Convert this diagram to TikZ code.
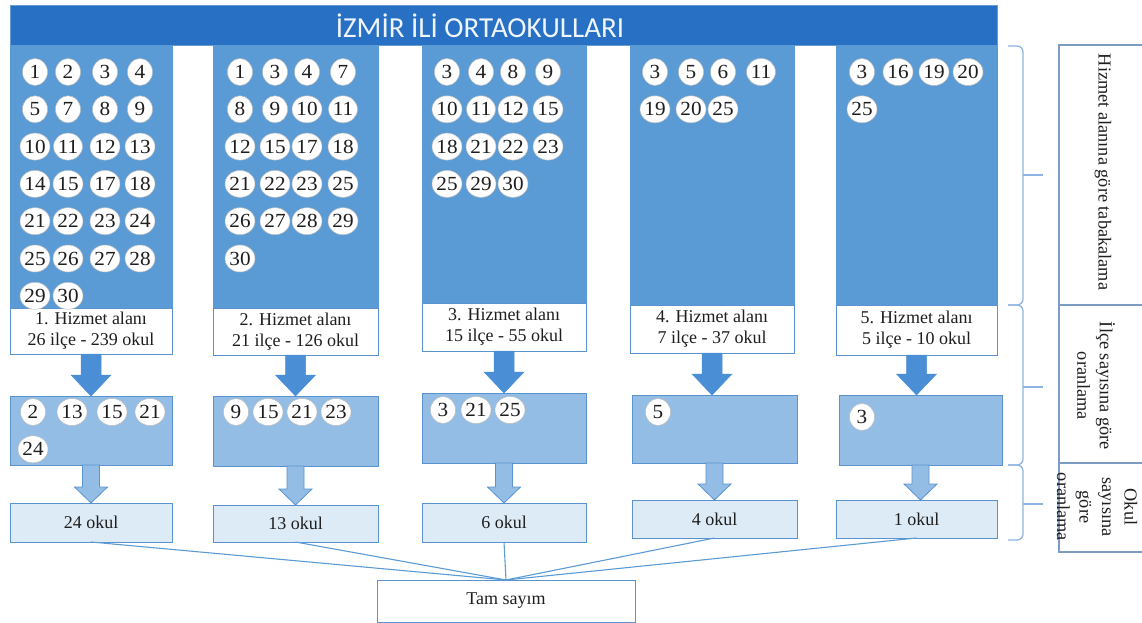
\documentclass[tikz,border=0pt]{standalone}
\usepackage{fontspec}
\setmainfont{Liberation Serif}
\newfontfamily\wideserif[FakeStretch=1.06]{Liberation Serif}
\newfontfamily\titlefont{Carlito}
\usetikzlibrary{shapes.geometric,calc}
\definecolor{titleblue}{HTML}{2770C4}
\definecolor{colA}{HTML}{5B9BD5}
\definecolor{arrowA}{HTML}{4A8ED5}
\definecolor{midfill}{HTML}{93BDE4}
\definecolor{botfill}{HTML}{DDEBF7}
\definecolor{bordA}{HTML}{5B93CF}
\definecolor{braceC}{HTML}{8DB4E2}
\definecolor{tblC}{HTML}{7C9CC2}
\definecolor{txt}{HTML}{1E1E1E}
\tikzset{
  colbox/.style={fill=colA, draw=colA, inner sep=0pt, outer sep=0pt},
  lblbox/.style={fill=white, draw=bordA, line width=1pt, inner sep=0pt, outer sep=0pt, align=center, text=txt, font=\fontsize{18}{21}\selectfont},
  midbox/.style={fill=midfill, draw=bordA, line width=1pt, inner sep=0pt, outer sep=0pt},
  botbox/.style={fill=botfill, draw=bordA, line width=1pt, inner sep=0pt, outer sep=0pt, text=txt, font=\fontsize{18}{21}\selectfont},
  tambox/.style={fill=white, draw=bordA, line width=1pt, inner sep=0pt, outer sep=0pt, text=txt, font=\fontsize{18}{21}\selectfont},
  num/.style={ellipse, fill=white, draw=black!25, line width=0.5pt, minimum width=25pt, minimum height=27pt, inner sep=0pt, text=txt, font=\wideserif\fontsize{20}{20}\selectfont},
  arrA/.style={fill=arrowA, draw=arrowA, line width=0.5pt},
  arrB/.style={fill=midfill, draw=bordA, line width=0.8pt},
  link/.style={draw=colA, line width=1.1pt},
  bracestyle/.style={draw=braceC, line width=1.3pt},
  tbl/.style={draw=tblC, line width=1.3pt},
  rottext/.style={rotate=-90, align=center, text=txt, font=\fontsize{18.3}{22.5}\selectfont, inner sep=0pt}
}
\newcommand\rbox[7]{\node[#2, anchor=north west, minimum width=#5-#3, minimum height=#6-#4] (#1) at (#3,#4) {#7};}
\newcommand\numgrid[4]{%
  \foreach \nn [count=\ii from 0] in {#4} {%
    \pgfmathtruncatemacro\rr{int(\ii/4)}%
    \pgfmathtruncatemacro\cc{mod(\ii,4)}%
    \pgfmathsetmacro\xx{{#2}[\cc]}%
    \node[num] (#1-\ii) at (\xx,#3+37.3*\rr) {\nn};
  }}
\newcommand\blockA[2]{\path[arrA] let \p1=(#1.south), \p2=(#2.north) in
  (\x1-10pt,\y1) -- (\x1+10pt,\y1) -- (\x1+10pt,\y2+21pt) -- (\x1+20pt,\y2+21pt) -- (\x1,\y2) -- (\x1-20pt,\y2+21pt) -- (\x1-10pt,\y2+21pt) -- cycle;}
\newcommand\blockB[2]{\path[arrB] let \p1=(#1.south), \p2=(#2.north) in
  (\x1-8.5pt,\y1) -- (\x1+8.5pt,\y1) -- (\x1+8.5pt,\y2+16pt) -- (\x1+16.5pt,\y2+16pt) -- (\x1,\y2) -- (\x1-16.5pt,\y2+16pt) -- (\x1-8.5pt,\y2+16pt) -- cycle;}
\newcommand\sidebrace[3]{%
  \draw[bracestyle, rounded corners=6pt] (1008,#1) -- (1023,#1) -- (1023,#3) -- (1008,#3);
  \draw[bracestyle] (1023,#2) -- (1043,#2);}
\begin{document}
\begin{tikzpicture}[x=1pt,y=-1pt]
\useasboundingbox (0,0) rectangle (1142,623);
% title
\rbox{title}{fill=titleblue, draw=titleblue!70, inner sep=0pt, outer sep=0pt}{10}{5}{997}{45}{}
\node[text=white!90!colA, font=\titlefont\fontsize{29}{29}\selectfont, inner sep=0pt] (titletext) at (480,26) {İZMİR İLİ ORTAOKULLARI};
% columns
\rbox{c1}{colbox}{10}{45}{172}{308}{}
\rbox{c2}{colbox}{213}{45}{378}{308}{}
\rbox{c3}{colbox}{422}{45}{586}{303}{}
\rbox{c4}{colbox}{630}{45}{794}{305}{}
\rbox{c5}{colbox}{836}{45}{997}{305}{}
% labels
\rbox{l1}{lblbox}{10}{308}{172}{354}{1. Hizmet alanı\\26 ilçe - 239 okul}
\rbox{l2}{lblbox}{213}{308}{378}{355}{2. Hizmet alanı\\21 ilçe - 126 okul}
\rbox{l3}{lblbox}{422}{303}{586}{351}{3. Hizmet alanı\\15 ilçe - 55 okul}
\rbox{l4}{lblbox}{630}{305}{794}{353}{4. Hizmet alanı\\7 ilçe - 37 okul}
\rbox{l5}{lblbox}{836}{305}{997}{355}{5. Hizmet alanı\\5 ilçe - 10 okul}
% middle boxes
\rbox{m1}{midbox}{10}{396}{172}{465}{}
\rbox{m2}{midbox}{213}{396}{378}{466}{}
\rbox{m3}{midbox}{422}{393}{586}{463}{}
\rbox{m4}{midbox}{632}{395}{797}{463}{}
\rbox{m5}{midbox}{839}{395}{1002}{465}{}
% bottom boxes
\rbox{b1}{botbox}{10}{503}{172}{542}{24 okul}
\rbox{b2}{botbox}{213}{505}{378}{542}{13 okul}
\rbox{b3}{botbox}{422}{503}{586}{542}{6 okul}
\rbox{b4}{botbox}{632}{500}{797}{538}{4 okul}
\rbox{b5}{botbox}{836}{500}{997}{538}{1 okul}
\rbox{tam}{tambox}{377}{580}{635}{622}{Tam sayım}
% numbers in columns
\numgrid{n1}{35,68,105,140}{72}{1,2,3,4,5,7,8,9,10,11,12,13,14,15,17,18,21,22,23,24,25,26,27,28,29,30}
\numgrid{n2}{240,275,307,343}{72}{1,3,4,7,8,9,10,11,12,15,17,18,21,22,23,25,26,27,28,29,30}
\numgrid{n3}{447,481,513,548}{72}{3,4,8,9,10,11,12,15,18,21,22,23,25,29,30}
\numgrid{n4}{655,691,723,761}{72}{3,5,6,11,19,20,25}
\numgrid{n5}{862,898,934,968}{72}{3,16,19,20,25}
% numbers in middle boxes
\numgrid{s1}{33,72,112,150}{412}{2,13,15,21,24}
\numgrid{s2}{236,268,302,336}{412}{9,15,21,23}
\numgrid{s3}{443,476,510,545}{410}{3,21,25}
\numgrid{s4}{658,690,720,750}{412}{5}
\numgrid{s5}{862,890,920,950}{417}{3}
% arrows
\blockA{l1}{m1}\blockA{l2}{m2}\blockA{l3}{m3}\blockA{l4}{m4}\blockA{l5}{m5}
\blockB{m1}{b1}\blockB{m2}{b2}\blockB{m3}{b3}\blockB{m4}{b4}\blockB{m5}{b5}
% links to Tam sayım
\foreach \k in {1,...,5} {\draw[link] (b\k.south) -- (tam.north);}
% braces
\sidebrace{46}{175}{305}
\sidebrace{305}{387}{465}
\sidebrace{465}{504}{540}
% right table
\draw[tbl] (1145,45) -- (1059,45) -- (1059,552) -- (1145,552);
\draw[tbl] (1059,305) -- (1145,305);
\draw[tbl] (1059,463) -- (1145,463);
\node[rottext] (t1) at (1103,172) {Hizmet alanına göre tabakalama};
\node[rottext] (t2) at (1096,386) {İlçe sayısına göre\\oranlama};
\node[rottext] (t3) at (1097,507) {Okul\\sayısına\\göre\\oranlama};
\end{tikzpicture}
\end{document}
